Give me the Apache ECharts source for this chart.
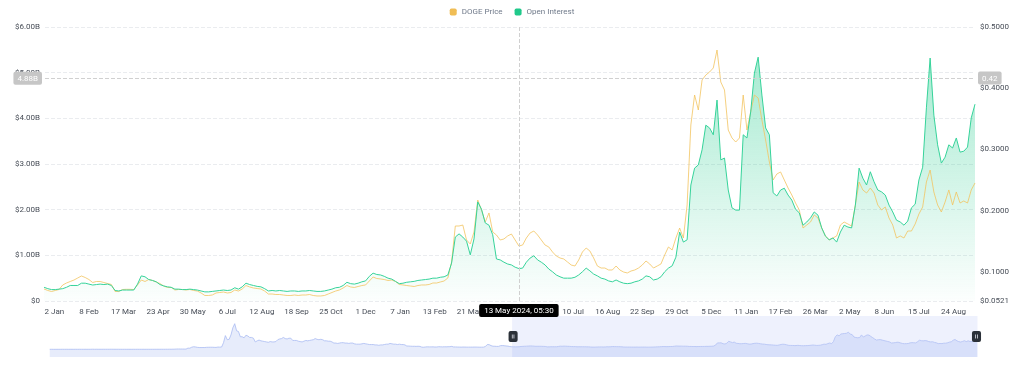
<!DOCTYPE html>
<html>
<head>
<meta charset="utf-8">
<title>DOGE Price vs Open Interest</title>
<script src="https://cdn.jsdelivr.net/npm/echarts@6/dist/echarts.min.js"></script>
<style>
  html, body { margin: 0; padding: 0; background: #fff; }
  #chart { width: 1024px; height: 378px; }
</style>
</head>
<body>
<div id="chart"></div>
<script>
// daily categories, 2020-04-08 .. 2025-09-16 (three days missing in the source data)
var firstDay = '2020-04-08';
var lastDay = '2025-09-16';
var missingDays = ['2025-07-29', '2025-07-30', '2025-07-31'];
var MONTHS = ['Jan', 'Feb', 'Mar', 'Apr', 'May', 'Jun', 'Jul', 'Aug', 'Sep', 'Oct', 'Nov', 'Dec'];

// samples every 4th category
var sampleStep = 4;

// DOGE price (USD) before the zoomed window, from index 0 (only visible in the slider)
var priceEarly = [
  0.0021,0.0020,0.0020,0.0019,0.0020,0.0021,
  0.0025,0.0026,0.0024,0.0025,0.0026,0.0025,0.0026,0.0026,
  0.0026,0.0026,0.0025,0.0024,0.0025,0.0025,0.0024,
  0.0025,0.0030,0.0045,0.0035,0.0033,0.0032,0.0033,0.0032,
  0.0033,0.0034,0.0035,0.0034,0.0036,0.0035,0.0033,0.0034,
  0.0031,0.0027,0.0027,0.0028,0.0027,0.0026,0.0027,
  0.0026,0.0026,0.0026,0.0026,0.0026,0.0026,0.0026,0.0026,
  0.0025,0.0026,0.0026,0.0026,0.0029,0.0032,0.0030,0.0033,
  0.0033,0.0032,0.0033,0.0036,0.0045,0.0044,0.0047,
  0.0057,0.0098,0.0105,0.0093,0.0092,0.0082,0.0082,0.0337,
  0.0318,0.0580,0.0700,0.0660,0.0550,0.0500,0.0490,
  0.0500,0.0500,0.0560,0.0570,0.0580,0.0570,0.0550,0.0530,
  0.0620,0.0600,0.0640,0.1800,0.3700,0.2600,0.2700,
  0.3900,0.5800,0.6900,0.5000,0.4800,0.3400,0.3400,0.3100,
  0.3800,0.3600,0.3200,0.3200,0.3000,0.2000,0.2300,0.2500,
  0.2300,0.2200,0.2100,0.2000,0.1900,0.2100,0.2000,
  0.2000,0.2100,0.2600,0.2800,0.2900,0.3200,0.2900,0.2800,
  0.3000,0.3000,0.2400,0.2400,0.2400,0.2200,0.2100,0.2000,
  0.2200,0.2400,0.2300,0.2400,0.2500,0.2600,0.2900,
  0.2700,0.2600,0.2700,0.2600,0.2300,0.2300,0.2200,0.2200,
  0.2000,0.1700,0.1700,0.1600,0.1700,0.1800,0.1800,0.1700,
  0.1700,0.1600,0.1700,0.1700,0.1500,0.1400,0.1400,
  0.1400,0.1500,0.1600,0.1500,0.1400,0.1300,0.1300,
  0.1300,0.1200,0.1200,0.1100,0.1200,0.1200,0.1300,0.1400,
  0.1400,0.1600,0.1500,0.1400,0.1400,0.1300,0.1400,0.1300,
  0.1300,0.1200,0.0900,0.0900,0.0850,0.0830,0.0830,
  0.0810,0.0840,0.0800,0.0600,0.0580,0.0650,0.0690,0.0670,
  0.0670,0.0680,0.0640,0.0640,0.0720,0.0700,0.0670,0.0700,
  0.0690,0.0710,0.0730,0.0800,0.0650,0.0660,0.0630,
  0.0620,0.0610,0.0630,0.0620,0.0610,0.0600,0.0610,0.0610,
  0.0620,0.0620,0.0600,0.0590,0.0590,0.0600,0.0780,0.1300,
  0.1270,0.1010,0.0850,0.0840,0.0800,0.0800,0.1000,
  0.1030,0.0990,0.0920,0.0880,0.0760
];

// DOGE price (USD) from 2022-12-22 on
var priceRecent = [
  0.0717,0.0693,0.0676,0.0693,0.0709,0.0783,0.0815,0.0840,0.0864,0.0897,
  0.0930,0.0905,0.0872,0.0823,0.0840,0.0840,0.0823,0.0807,0.0791,0.0676,
  0.0676,0.0709,0.0712,0.0712,0.0709,0.0783,0.0864,0.0840,0.0872,0.0856,
  0.0832,0.0807,0.0766,0.0742,0.0742,0.0701,0.0709,0.0709,0.0701,0.0709,
  0.0693,0.0684,0.0652,0.0611,0.0611,0.0619,0.0652,0.0660,0.0668,0.0652,
  0.0660,0.0701,0.0684,0.0717,0.0774,0.0750,0.0734,0.0725,0.0717,0.0684,
  0.0635,0.0635,0.0627,0.0627,0.0619,0.0611,0.0611,0.0619,0.0611,0.0619,
  0.0619,0.0627,0.0611,0.0603,0.0603,0.0611,0.0635,0.0660,0.0684,0.0701,
  0.0734,0.0774,0.0750,0.0742,0.0758,0.0774,0.0783,0.0848,0.0913,0.0889,
  0.0881,0.0872,0.0856,0.0864,0.0840,0.0791,0.0783,0.0774,0.0766,0.0758,
  0.0774,0.0783,0.0783,0.0791,0.0815,0.0815,0.0832,0.0848,0.0897,0.1159,
  0.1747,0.1747,0.1763,0.1518,0.1453,0.1649,0.2172,0.2009,0.1812,0.1960,
  0.1649,0.1600,0.1518,0.1535,0.1584,0.1616,0.1518,0.1420,0.1436,0.1551,
  0.1633,0.1665,0.1600,0.1518,0.1436,0.1404,0.1322,0.1257,0.1224,0.1208,
  0.1159,0.1109,0.1093,0.1191,0.1322,0.1387,0.1338,0.1224,0.1093,0.1060,
  0.1060,0.1028,0.1028,0.1093,0.1028,0.0995,0.0979,0.1011,0.1028,0.1060,
  0.1109,0.1175,0.1126,0.1060,0.1093,0.1126,0.1273,0.1404,0.1355,0.1551,
  0.1714,0.1551,0.2090,0.3398,0.3888,0.3643,0.4134,0.4215,0.4264,0.4330,
  0.4624,0.4101,0.3970,0.3316,0.3186,0.3120,0.3186,0.3888,0.3316,0.3611,
  0.3888,0.3839,0.3480,0.3153,0.2793,0.2499,0.2597,0.2630,0.2499,0.2368,
  0.2254,0.2123,0.2009,0.1714,0.1763,0.1812,0.1927,0.1878,0.1714,0.1584,
  0.1518,0.1551,0.1584,0.1763,0.1812,0.1780,0.1747,0.2090,0.2466,0.2336,
  0.2286,0.2368,0.2286,0.2090,0.2009,0.2058,0.1878,0.1763,0.1551,0.1584,
  0.1551,0.1665,0.1665,0.1780,0.1943,0.2058,0.2466,0.2662,0.2303,0.2090,
  0.1976,0.2139,0.2336,0.2090,0.2303,0.2123,0.2156,0.2123,0.2336,0.2450
];

// open interest (USD billions) from 2022-12-22 on
var openInterest = [
  0.30,0.27,0.25,0.25,0.26,0.27,0.30,0.34,0.34,0.34,
  0.39,0.39,0.37,0.35,0.36,0.37,0.36,0.37,0.34,0.23,
  0.22,0.24,0.24,0.24,0.24,0.37,0.55,0.53,0.47,0.45,
  0.42,0.36,0.33,0.31,0.30,0.26,0.26,0.25,0.25,0.26,
  0.25,0.24,0.22,0.20,0.20,0.21,0.22,0.23,0.24,0.23,
  0.24,0.29,0.26,0.31,0.39,0.36,0.34,0.32,0.31,0.27,
  0.22,0.23,0.22,0.23,0.22,0.21,0.22,0.22,0.21,0.22,
  0.22,0.23,0.22,0.21,0.21,0.22,0.24,0.26,0.29,0.30,
  0.34,0.41,0.38,0.37,0.39,0.42,0.44,0.54,0.61,0.58,
  0.57,0.54,0.50,0.48,0.43,0.38,0.39,0.41,0.42,0.43,
  0.45,0.46,0.47,0.48,0.50,0.50,0.52,0.53,0.57,0.83,
  1.40,1.47,1.40,1.31,1.01,1.36,2.17,2.01,1.71,1.66,
  1.45,0.92,0.90,0.85,0.81,0.79,0.74,0.71,0.72,0.85,
  0.94,0.99,0.90,0.85,0.79,0.70,0.64,0.57,0.53,0.50,
  0.50,0.50,0.52,0.57,0.64,0.72,0.66,0.59,0.55,0.50,
  0.48,0.44,0.42,0.46,0.42,0.39,0.38,0.39,0.42,0.44,
  0.48,0.55,0.53,0.46,0.48,0.53,0.64,0.72,0.77,0.96,
  1.51,1.29,1.34,2.54,2.91,2.98,3.31,3.85,3.79,3.64,
  4.40,3.09,3.13,2.43,2.04,1.99,1.99,3.64,3.57,4.14,
  4.99,5.34,4.51,3.79,3.64,2.37,2.30,2.43,2.47,2.32,
  2.21,2.01,1.93,1.66,1.73,1.82,1.95,1.88,1.60,1.42,
  1.34,1.38,1.29,1.51,1.66,1.62,1.60,2.10,2.91,2.69,
  2.54,2.83,2.61,2.43,2.39,2.32,2.10,1.95,1.77,1.73,
  1.66,1.75,2.04,2.12,2.65,2.93,4.23,5.32,4.07,3.42,
  3.02,3.15,3.42,3.35,3.57,3.26,3.28,3.37,4.01,4.31
];

// left axis (billions) and right axis (USD) ticks
var oiTicks = [0, 1, 2, 3, 4, 5, 6];
var priceTicks = [0.0521, 0.1, 0.2, 0.3, 0.4, 0.5];

// zoom window and crosshair readout
var windowStart = '2022-12-23';
var crossDay = '2024-05-13';
var crossOI = 4.88;
var crossPrice = 0.4166;

var categories = [];
var t0 = Date.parse(firstDay + 'T00:00:00Z');
var t1 = Date.parse(lastDay + 'T00:00:00Z');
for (var t = t0; t <= t1; t += 86400000) {
    var iso = new Date(t).toISOString().slice(0, 10);
    if (missingDays.indexOf(iso) < 0) categories.push(iso);
}

var recentStart = priceEarly.length * sampleStep;
var priceData = [];
for (var i = 0; i < priceEarly.length; i++) priceData.push([i * sampleStep, priceEarly[i]]);
for (var i = 0; i < priceRecent.length; i++) priceData.push([recentStart + i * sampleStep, priceRecent[i]]);
var oiData = [];
for (var i = 0; i < openInterest.length; i++) oiData.push([recentStart + i * sampleStep, openInterest[i]]);

function dayLabel(s) {
    var p = s.split('-');
    return (+p[2]) + ' ' + MONTHS[+p[1] - 1];
}

var chart = echarts.init(document.getElementById('chart'));
var textFont = 'Roboto, "Noto Sans", sans-serif';
var pointerLine = { color: '#d0d0d0', type: 'dashed', width: 1 };

var option = {
    animation: false,
    textStyle: { fontFamily: textFont },
    legend: {
        top: 3,
        left: 'center',
        icon: 'roundRect',
        itemWidth: 7,
        itemHeight: 7,
        itemGap: 12,
        textStyle: { fontSize: 8, color: '#707a8a', fontFamily: textFont },
        data: ['DOGE Price', 'Open Interest']
    },
    grid: { left: 45, right: 49, top: 27, bottom: 77 },
    xAxis: {
        type: 'category',
        data: categories,
        boundaryGap: false,
        axisLine: { show: false },
        axisTick: { show: false },
        splitLine: { show: false },
        axisLabel: {
            fontSize: 8,
            color: '#474d57',
            margin: 7,
            interval: function (index) { return index % 37 === 0; },
            formatter: function (v) { return dayLabel(v); }
        },
        axisPointer: {
            show: true,
            status: 'show',
            value: categories.indexOf(crossDay),
            type: 'line',
            lineStyle: pointerLine,
            label: {
                show: true,
                backgroundColor: '#000',
                color: '#fff',
                fontSize: 8,
                padding: [3, 5, 2, 5],
                borderRadius: 2,
                formatter: function (p) {
                    var v = typeof p.value === 'number' ? categories[p.value] : p.value;
                    var parts = v.split('-');
                    return (+parts[2]) + ' ' + MONTHS[+parts[1] - 1] + ' ' + parts[0] + ', 05:30';
                }
            }
        }
    },
    yAxis: [
        {
            type: 'value',
            min: oiTicks[0],
            max: oiTicks[oiTicks.length - 1],
            interval: 1,
            axisLine: { show: false },
            axisTick: { show: false },
            splitLine: { lineStyle: { color: '#eaecef', type: 'dashed' } },
            axisLabel: {
                fontSize: 8,
                color: '#474d57',
                margin: 5,
                formatter: function (v) { return v === 0 ? '$0' : '$' + v.toFixed(2) + 'B'; }
            },
            axisPointer: {
                show: true,
                status: 'show',
                value: crossOI,
                type: 'line',
                lineStyle: pointerLine,
                label: {
                    show: true,
                    backgroundColor: '#c6c6c6',
                    color: '#fff',
                    fontSize: 8,
                    padding: [3, 4, 2, 4],
                    borderRadius: 2,
                    formatter: function (p) { return Number(p.value).toFixed(2) + 'B'; }
                }
            }
        },
        {
            type: 'value',
            min: priceTicks[0],
            max: priceTicks[priceTicks.length - 1],
            axisLine: { show: false },
            axisTick: { show: false },
            splitLine: { show: false },
            axisLabel: {
                fontSize: 8,
                color: '#474d57',
                margin: 5,
                customValues: priceTicks,
                formatter: function (v) { return '$' + v.toFixed(4); }
            },
            axisPointer: {
                show: true,
                status: 'show',
                value: crossPrice,
                type: 'line',
                lineStyle: pointerLine,
                label: {
                    show: true,
                    backgroundColor: '#c6c6c6',
                    color: '#fff',
                    fontSize: 8,
                    padding: [3, 4, 2, 4],
                    borderRadius: 2,
                    formatter: function (p) { return Number(p.value).toFixed(2); }
                }
            }
        }
    ],
    dataZoom: [
        {
            type: 'slider',
            xAxisIndex: 0,
            filterMode: 'none',
            startValue: categories.indexOf(windowStart),
            endValue: categories.length - 1,
            left: 47,
            right: 49,
            top: 316,
            height: 41,
            showDetail: false,
            brushSelect: false,
            moveHandleSize: 0,
            moveHandleStyle: { opacity: 0 },
            backgroundColor: 'rgba(0,0,0,0)',
            borderColor: 'rgba(0,0,0,0)',
            fillerColor: 'rgba(205,216,248,0.35)',
            handleIcon: 'path://M2,0H7Q9,0,9,2V9Q9,11,7,11H2Q0,11,0,9V2Q0,0,2,0Z M3.3,3.5V7.5H4V3.5Z M5,3.5V7.5H5.7V3.5Z',
            handleSize: '27%',
            handleStyle: { color: '#2b3139', borderWidth: 0 },
            dataBackground: {
                lineStyle: { color: '#a9bbf2', width: 0.8 },
                areaStyle: { color: '#e7ecfb', opacity: 1 }
            },
            selectedDataBackground: {
                lineStyle: { color: '#a3b6f1', width: 0.8 },
                areaStyle: { color: '#cfd9f8', opacity: 0.7 }
            }
        }
    ],
    series: [
        {
            name: 'DOGE Price',
            type: 'line',
            yAxisIndex: 1,
            showSymbol: false,
            data: priceData,
            itemStyle: { color: '#f0bd55' },
            lineStyle: { color: 'rgba(243,196,96,0.8)', width: 1 }
        },
        {
            name: 'Open Interest',
            type: 'line',
            yAxisIndex: 0,
            showSymbol: false,
            data: oiData,
            itemStyle: { color: '#20c98b' },
            lineStyle: { color: '#36d39a', width: 1 },
            areaStyle: {
                color: new echarts.graphic.LinearGradient(0, 0, 0, 1, [
                    { offset: 0, color: 'rgba(46,206,146,0.6)' },
                    { offset: 1, color: 'rgba(46,206,146,0.02)' }
                ])
            }
        }
    ]
};

chart.setOption(option);
window.onresize = chart.resize;
</script>
</body>
</html>
